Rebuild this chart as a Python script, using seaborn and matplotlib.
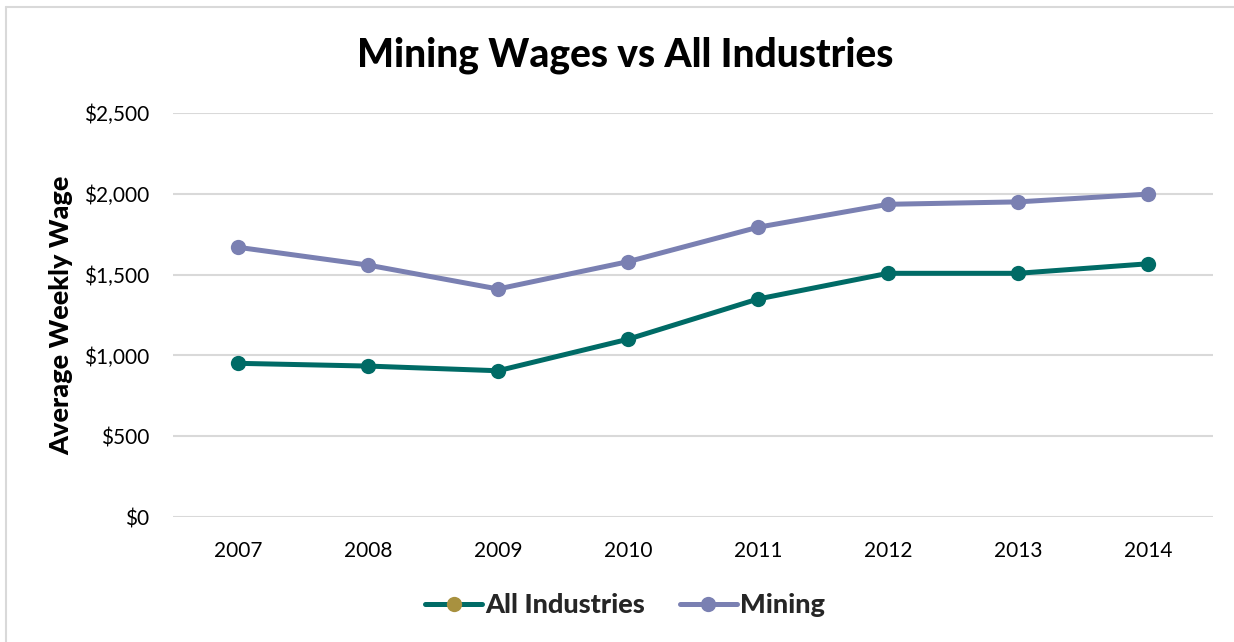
import matplotlib
matplotlib.use("Agg")
import matplotlib.pyplot as plt
import seaborn as sns
import pandas as pd
from matplotlib.ticker import FuncFormatter
from matplotlib.lines import Line2D

# Average weekly wage by year
years = ["2007", "2008", "2009", "2010", "2011", "2012", "2013", "2014"]
all_industries = [951, 934, 905, 1100, 1349, 1508, 1508, 1567]
mining = [1669, 1559, 1411, 1580, 1793, 1935, 1950, 1998]
series_names = ["All Industries", "Mining"]

TEAL = "#006b66"
LAVENDER = "#7a80b2"
GOLD = "#a8913f"
GRID = "#d9d9d9"
HEAVY = 900

df = pd.DataFrame({
    "Year": years * 2,
    "Wage": all_industries + mining,
    "Series": [series_names[0]] * len(years) + [series_names[1]] * len(years),
})

sns.set_theme(style="white")
plt.rcParams["font.family"] = ["Lato", "DejaVu Sans"]

fig = plt.figure(figsize=(12.34, 6.42), dpi=100)
ax = fig.add_axes([173 / 1234, 1 - 517 / 642, 1040 / 1234, 404 / 642])

sns.lineplot(
    data=df, x="Year", y="Wage", hue="Series",
    palette={series_names[0]: TEAL, series_names[1]: LAVENDER},
    marker="o", markersize=11, markeredgewidth=0, linewidth=3.6,
    sort=False, ax=ax, legend=True,
)

ax.set_xlim(-0.5, len(years) - 0.5)
ax.set_ylim(0, 2500)
ax.set_yticks(range(0, 2501, 500))
ax.yaxis.set_major_formatter(FuncFormatter(lambda v, _: f"${v:,.0f}"))
ax.grid(axis="y", color=GRID, linewidth=1.5)
ax.grid(axis="x", visible=False)
ax.set_axisbelow(True)
for s in ax.spines.values():
    s.set_visible(False)
ax.tick_params(axis="both", length=0, labelsize=15, colors="black")
ax.tick_params(axis="y", pad=17)
ax.tick_params(axis="x", pad=17)
ax.set_xlabel("")
ax.set_ylabel("Average Weekly Wage", fontsize=19.5, fontweight=HEAVY, color="black")
ax.yaxis.set_label_coords(-0.096, 0.5)

fig.suptitle("Mining Wages vs All Industries", x=625 / 1234, y=1 - 55 / 642,
             va="center", fontsize=28, fontweight=HEAVY, color="black")

# Legend below the plot; the All Industries key carries a gold marker
handles, labels = ax.get_legend_handles_labels()
ax.get_legend().remove()
new_handles = []
for h, lab in zip(handles, labels):
    color = h.get_color()
    face = GOLD if lab == series_names[0] else color
    new_handles.append(Line2D([0], [0], color=color, linewidth=3.6, marker="o",
                              markersize=11, markerfacecolor=face, markeredgewidth=0))
fig.legend(new_handles, labels, loc="center", bbox_to_anchor=(625 / 1234, 1 - 605 / 642),
           ncol=2, frameon=False, handlelength=2.1, handletextpad=0.1, columnspacing=1.3,
           prop={"family": ["Lato", "DejaVu Sans"], "weight": HEAVY, "size": 19.5})

# Light chart-area border along the top and left
fig.add_artist(Line2D([6 / 1234, 6 / 1234], [0, 1 - 7 / 642], transform=fig.transFigure,
                      color=GRID, linewidth=1.5))
fig.add_artist(Line2D([6 / 1234, 1], [1 - 7 / 642, 1 - 7 / 642], transform=fig.transFigure,
                      color=GRID, linewidth=1.5))

fig.savefig("out.png", dpi=100)
